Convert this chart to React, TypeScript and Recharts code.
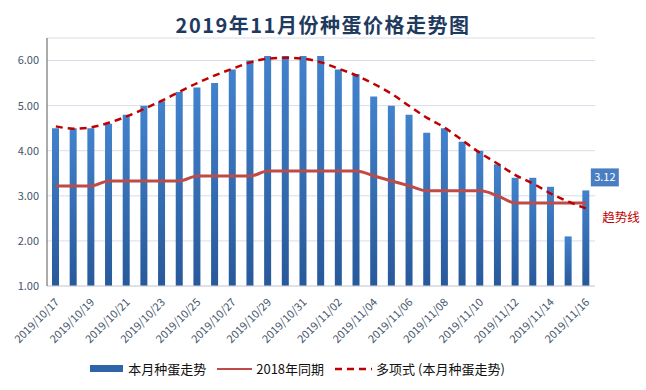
import { ComposedChart, Bar, Line, XAxis, YAxis, CartesianGrid, Legend } from 'recharts';

const dates = [
  '2019/10/17', '2019/10/18', '2019/10/19', '2019/10/20', '2019/10/21', '2019/10/22', '2019/10/23', '2019/10/24',
  '2019/10/25', '2019/10/26', '2019/10/27', '2019/10/28', '2019/10/29', '2019/10/30', '2019/10/31', '2019/11/01',
  '2019/11/02', '2019/11/03', '2019/11/04', '2019/11/05', '2019/11/06', '2019/11/07', '2019/11/08', '2019/11/09',
  '2019/11/10', '2019/11/11', '2019/11/12', '2019/11/13', '2019/11/14', '2019/11/15', '2019/11/16',
];

const thisMonth = [
  4.5, 4.5, 4.5, 4.6, 4.8, 5.0, 5.1, 5.3, 5.4, 5.5, 5.8, 6.0, 6.1, 6.1, 6.1, 6.1,
  5.8, 5.7, 5.2, 5.0, 4.8, 4.4, 4.5, 4.2, 4.0, 3.7, 3.4, 3.4, 3.2, 2.1, 3.12,
];

const lastYear = [
  3.22, 3.22, 3.22, 3.33, 3.33, 3.33, 3.33, 3.33, 3.44, 3.44, 3.44, 3.44, 3.55, 3.55, 3.55, 3.55,
  3.55, 3.55, 3.44, 3.33, 3.22, 3.11, 3.11, 3.11, 3.11, 3.0, 2.84, 2.84, 2.84, 2.84, 2.84,
];

const trend = [
  4.54, 4.49, 4.52, 4.62, 4.76, 4.93, 5.11, 5.31, 5.5, 5.67, 5.82, 5.96, 6.04, 6.06, 6.04, 5.96,
  5.82, 5.67, 5.48, 5.26, 4.99, 4.73, 4.51, 4.23, 3.95, 3.71, 3.46, 3.27, 3.05, 2.87, 2.72,
];

const yTicks = [1, 2, 3, 4, 5, 6];

const data = dates.map((d, i) => ({ date: d, thisMonth: thisMonth[i], lastYear: lastYear[i], trend: trend[i] }));

const FONT = '"Noto Sans CJK SC", "Noto Sans", sans-serif';

function DateTick({ x, y, payload }: any) {
  return (
    <text
      x={x + 4}
      y={y + 9}
      transform={`rotate(-45, ${x + 4}, ${y + 9})`}
      textAnchor="end"
      fontSize={11}
      fill="#44546A"
      fontFamily={FONT}
    >
      {payload.value}
    </text>
  );
}

function LastBarLabel({ x, y, width, index, value }: any) {
  if (index !== dates.length - 1) return null;
  const cx = x + width / 2;
  return (
    <g>
      <rect x={cx + 5} y={y - 22} width={28} height={18} fill="#4A7EC2" />
      <text x={cx + 19} y={y - 9} textAnchor="middle" fontSize={11} fill="#fff" fontFamily={FONT}>
        {value.toFixed(2)}
      </text>
    </g>
  );
}

function TrendLabel({ x, y, index }: any) {
  if (index !== dates.length - 1) return null;
  return (
    <text x={x + 16} y={y + 14} fontSize={12.5} fill="#C00000" fontFamily={FONT}>
      趋势线
    </text>
  );
}

function LegendBox() {
  return (
    <div style={{ display: 'flex', justifyContent: 'center', alignItems: 'center', fontSize: 13, color: '#111', fontFamily: FONT }}>
      <span style={{ display: 'inline-block', width: 33, height: 7, background: '#2E64A8', marginRight: 5 }} />
      <span style={{ marginRight: 11 }}>本月种蛋走势</span>
      <span style={{ display: 'inline-block', width: 35, height: 2, background: '#BE4B48', marginRight: 4 }} />
      <span style={{ marginRight: 11 }}>2018年同期</span>
      <svg width={37} height={6} style={{ marginRight: 4 }}>
        <line x1={0} y1={3} x2={37} y2={3} stroke="#C00000" strokeWidth={2.5} strokeDasharray="7 5" />
      </svg>
      <span>多项式 (本月种蛋走势)</span>
    </div>
  );
}

export default function App() {
  return (
    <div style={{ position: 'relative', width: 646, height: 390, background: '#fff', fontFamily: FONT }}>
      <style>{'body{margin:0}'}</style>
      <div
        style={{
          position: 'absolute',
          top: 10,
          left: 0,
          width: 646,
          textAlign: 'center',
          fontSize: 20,
          fontWeight: 'bold',
          letterSpacing: 1.5,
          color: '#1F3A5F',
          zIndex: 1,
        }}
      >
        2019年11月份种蛋价格走势图
      </div>
      <ComposedChart width={646} height={390} data={data} margin={{ top: 38, right: 51, left: 0, bottom: 0 }} barCategoryGap="60%">
        <defs>
          <linearGradient id="barGrad" x1="0" y1="0" x2="0" y2="1">
            <stop offset="0%" stopColor="#4282CC" />
            <stop offset="100%" stopColor="#28599A" />
          </linearGradient>
        </defs>
        <CartesianGrid vertical={false} stroke="#D9DDE8" />
        <XAxis
          dataKey="date"
          interval={1}
          tick={<DateTick />}
          tickLine={false}
          axisLine={{ stroke: '#D0D4DE' }}
          height={85}
        />
        <YAxis
          domain={[1, 6.5]}
          ticks={yTicks}
          tickFormatter={(v: number) => v.toFixed(2)}
          tick={{ fontSize: 11, fill: '#44546A', fontFamily: FONT }}
          tickLine={false}
          axisLine={{ stroke: '#595959' }}
          width={47}
          allowDataOverflow
        />
        <Legend content={<LegendBox />} verticalAlign="bottom" wrapperStyle={{ bottom: 12 }} />
        <Bar dataKey="thisMonth" name="本月种蛋走势" fill="url(#barGrad)" barSize={7} isAnimationActive={false} label={<LastBarLabel />} />
        <Line
          dataKey="lastYear"
          name="2018年同期"
          type="monotone"
          stroke="#BE4B48"
          strokeWidth={3}
          dot={false}
          isAnimationActive={false}
        />
        <Line
          dataKey="trend"
          name="多项式 (本月种蛋走势)"
          type="monotone"
          stroke="#C00000"
          strokeWidth={2.5}
          strokeDasharray="7 5"
          dot={false}
          isAnimationActive={false}
          label={<TrendLabel />}
        />
      </ComposedChart>
    </div>
  );
}
